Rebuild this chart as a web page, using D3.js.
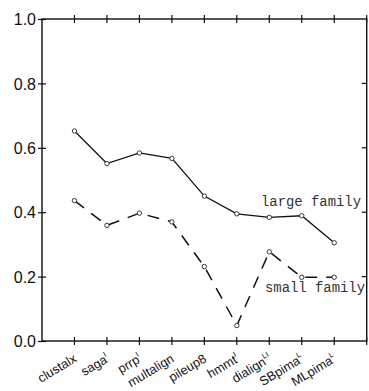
<!DOCTYPE html>
<html>
<head>
<meta charset="utf-8">
<script src="https://cdn.jsdelivr.net/npm/d3@7"></script>
<style>
  html, body { margin: 0; padding: 0; background: #fff; }
  svg { display: block; }
</style>
</head>
<body>
<svg id="chart" width="369" height="391"></svg>
<script>
// Aligners along the x axis, with their superscript flags
const methods = ["clustalx", "saga", "prrp", "multalign", "pileup8", "hmmt", "dialign", "SBpima", "MLpima"];
const marks = ["", "I", "I", "", "", "I", "LI", "L", "L"];

// Scores for the two test families
const largeFamily = [0.652, 0.551, 0.584, 0.567, 0.450, 0.395, 0.384, 0.389, 0.305];
const smallFamily = [0.436, 0.359, 0.397, 0.370, 0.231, 0.048, 0.277, 0.198, 0.198];

const yTicks = [0.0, 0.2, 0.4, 0.6, 0.8, 1.0];

(function draw() {
  const svg = d3.select("#chart");
  const plotLeft = 42, plotRight = 366.7, plotTop = 19, plotBottom = 341;

  const x = d3.scaleLinear().domain([0, methods.length + 1]).range([plotLeft, plotRight]);
  const y = d3.scaleLinear().domain([0, 1]).range([plotBottom, plotTop]);

  const axisColor = "#111";

  // Frame
  svg.append("rect")
    .attr("x", plotLeft).attr("y", plotTop)
    .attr("width", plotRight - plotLeft).attr("height", plotBottom - plotTop)
    .attr("fill", "none").attr("stroke", axisColor).attr("stroke-width", 1.4);

  // Tick marks crossing the top and bottom edges
  const xTickVals = d3.range(1, methods.length + 2);
  [plotTop, plotBottom].forEach(edge => {
    svg.append("g").selectAll("line").data(xTickVals).join("line")
      .attr("x1", d => x(d)).attr("x2", d => x(d))
      .attr("y1", edge - 4).attr("y2", edge + 4)
      .attr("stroke", axisColor).attr("stroke-width", 1.2);
  });

  // Left axis with labels
  const yAxis = d3.axisLeft(y).tickValues(yTicks).tickFormat(d3.format(".1f")).tickSize(4).tickPadding(2);
  const gy = svg.append("g").attr("transform", `translate(${plotLeft},0)`).call(yAxis);
  gy.select(".domain").remove();
  gy.selectAll(".tick line").attr("stroke", axisColor).attr("stroke-width", 1.2).attr("x2", 4).attr("x1", -4);
  gy.selectAll(".tick text")
    .attr("font-family", "Liberation Sans, Arial, sans-serif")
    .attr("font-size", 16).attr("fill", "#111").attr("dy", "0.36em");

  // Right axis inward ticks
  svg.append("g").selectAll("line").data(yTicks.filter(d => d > 0 && d < 1)).join("line")
    .attr("x1", plotRight - 5).attr("x2", plotRight)
    .attr("y1", d => y(d)).attr("y2", d => y(d))
    .attr("stroke", axisColor).attr("stroke-width", 1.2);

  // Rotated method labels
  const labels = svg.append("g").selectAll("text").data(methods).join("text")
    .attr("transform", (d, i) => `translate(${x(i + 1) + 3},${plotBottom + 20}) rotate(-31)`)
    .attr("text-anchor", "end")
    .attr("font-family", "Liberation Sans, Arial, sans-serif")
    .attr("font-size", 12.8).attr("fill", "#111");
  labels.each(function (d, i) {
    const t = d3.select(this);
    t.append("tspan").text(d);
    if (marks[i]) {
      t.append("tspan").attr("font-size", 7.5).attr("dy", -6).text(marks[i]);
    }
  });

  // Series lines
  const line = d3.line().x((d, i) => x(i + 1)).y(d => y(d));

  svg.append("path").datum(largeFamily)
    .attr("d", line).attr("fill", "none")
    .attr("stroke", "#111").attr("stroke-width", 1.3);

  svg.append("path").datum(smallFamily)
    .attr("d", line).attr("fill", "none")
    .attr("stroke", "#111").attr("stroke-width", 1.5)
    .attr("stroke-dasharray", "12,9");

  // Open circle markers
  [largeFamily, smallFamily].forEach(series => {
    svg.append("g").selectAll("circle").data(series).join("circle")
      .attr("cx", (d, i) => x(i + 1)).attr("cy", d => y(d)).attr("r", 2.2)
      .attr("fill", "#fff").attr("stroke", "#222").attr("stroke-width", 0.9);
  });

  // Series captions
  const mono = "Liberation Mono, Courier New, monospace";
  svg.append("text").attr("x", 261).attr("y", 206)
    .attr("font-family", mono).attr("font-size", 13.9).attr("fill", "#333")
    .text("large family");
  svg.append("text").attr("x", 265).attr("y", 292)
    .attr("font-family", mono).attr("font-size", 13.9).attr("fill", "#333")
    .text("small family");
})();
</script>
</body>
</html>
